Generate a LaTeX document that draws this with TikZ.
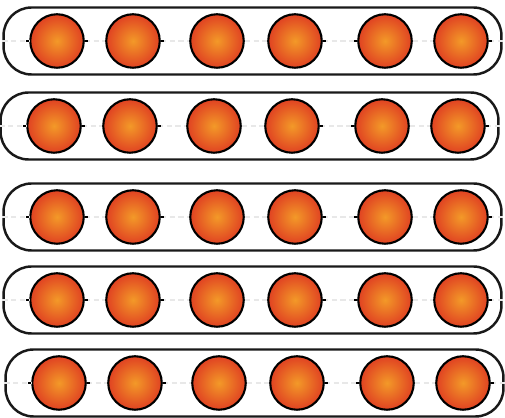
\documentclass[tikz,border=0pt]{standalone}
\definecolor{beadin}{RGB}{243,153,40}
\definecolor{beadout}{RGB}{224,66,34}
\tikzset{
  tube/.style={draw=black!90, line width=1.4pt, rounded corners=0.56cm,
    minimum width=9.96cm, minimum height=1.34cm, inner sep=0pt},
  bead/.style={circle, draw=black, line width=1.2pt, minimum size=1.07cm,
    inner sep=0pt, inner color=beadin, outer color=beadout},
  wire/.style={gray!18, line width=0.8pt, dash pattern=on 3pt off 2pt},
  stub/.style={black, line width=1.3pt}
}
\begin{document}
\begin{tikzpicture}[x=0.02cm, y=-0.02cm]
  \useasboundingbox (0,0) rectangle (505,418);
  % five chains, six beads in each
  \foreach \r/\y/\dx in {1/41/0, 2/126/-3, 3/217/0, 4/300/0, 5/383/2} {
    \node[tube] (t\r) at (252.5+\dx,\y) {};
    \foreach \i/\x in {1/57, 2/133, 3/217, 4/295, 5/385, 6/461}
      \node[bead] (b\r\i) at (\x+\dx,\y) {};
    % faint links between beads
    \draw[wire] (t\r.west) -- (b\r1);
    \foreach \i/\j in {1/2, 2/3, 3/4, 4/5, 5/6}
      \draw[wire] (b\r\i) -- (b\r\j);
    \draw[wire] (b\r6) -- (t\r.east);
    % short dark ends of the links
    \foreach \i/\a/\s in {1/west/-1, 1/east/1, 2/east/1, 4/east/1, 5/west/-1, 6/east/1}
      \draw[stub] (b\r\i.\a) -- ++(3*\s,0);
  }
\end{tikzpicture}
\end{document}
